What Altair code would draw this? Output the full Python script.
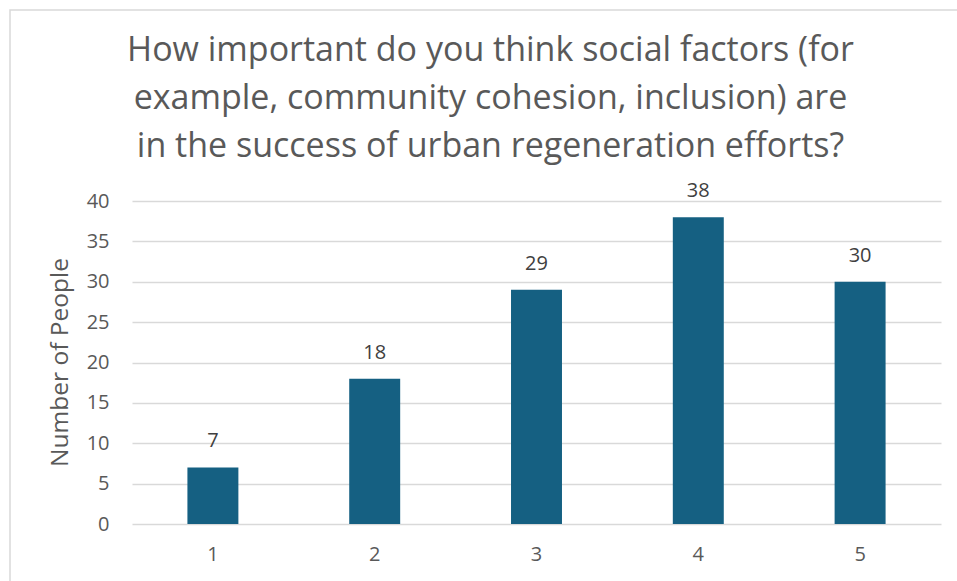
import altair as alt
import pandas as pd

categories = ["1", "2", "3", "4", "5"]
counts = [7, 18, 29, 38, 30]
y_ticks = [0, 5, 10, 15, 20, 25, 30, 35, 40]
title_lines = [
    "How important do you think social factors (for",
    "example, community cohesion, inclusion) are",
    "in the success of urban regeneration efforts?",
]

df = pd.DataFrame({"cat": categories, "n": counts})

FONT = "Open Sans"
TXT = "#595959"
BAR = "#156082"

x = alt.X(
    "cat:N",
    sort=categories,
    scale=alt.Scale(paddingInner=0.685, paddingOuter=0.3425),
    axis=alt.Axis(title=None, labelAngle=0, ticks=False, domain=False,
                  labelPadding=20, labelFontSize=20, labelColor=TXT, labelFont=FONT),
)
y = alt.Y(
    "n:Q",
    scale=alt.Scale(domain=[0, 40], nice=False),
    axis=alt.Axis(values=y_ticks, title="Number of People", titleFontSize=24.5,
                  titleFontWeight="normal", titleColor=TXT, titleFont=FONT,
                  titleX=-72, titleY=161, titleAngle=-90, titleAlign="center",
                  titleBaseline="middle",
                  ticks=False, domain=False, labelPadding=23, labelFontSize=20,
                  labelColor=TXT, labelFont=FONT, gridColor="#d9d9d9", gridWidth=1.5),
)

bars = alt.Chart(df).mark_bar(color=BAR).encode(x=x, y=y)
labels = alt.Chart(df).mark_text(
    dy=-26, fontSize=20, color="#404040", font=FONT, baseline="middle", align="center"
).encode(x=alt.X("cat:N", sort=categories), y="n:Q", text="n:Q")

border = alt.Chart(pd.DataFrame({"a": [0]})).mark_rect(
    fill=None, stroke="#d9d9d9", strokeWidth=1.5, clip=False
).encode(
    x=alt.value(-122), x2=alt.value(900), y=alt.value(-191), y2=alt.value(500)
)

chart = alt.layer(border, bars, labels).properties(
    width=809,
    height=323,
    autosize=alt.AutoSizeParams(type="none"),
    padding={"left": 132, "top": 201, "right": 16, "bottom": 57},
    title=alt.TitleParams(
        text=title_lines, fontSize=34, font=FONT, color=TXT, fontWeight="normal",
        lineHeight=48, anchor="middle", dx=-46, offset=-155,
    ),
).configure(background="white").configure_view(strokeWidth=0)

chart.save("out.html", embed_options={"renderer": "svg", "actions": False})
